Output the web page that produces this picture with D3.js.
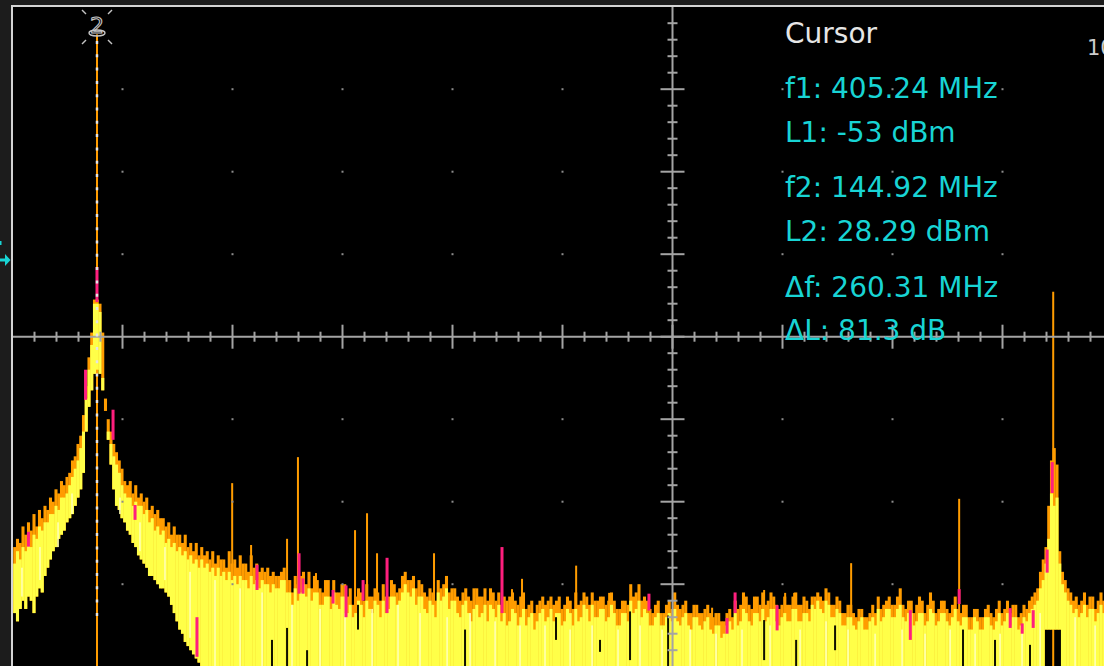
<!DOCTYPE html>
<html>
<head>
<meta charset="utf-8">
<script src="https://cdn.jsdelivr.net/npm/d3@7"></script>
<style>
  html, body { margin: 0; padding: 0; background: #1c1c1c; overflow: hidden; }
  svg { display: block; }
</style>
</head>
<body>
<svg id="scope" width="1104" height="666"></svg>
<script>
// spectrum bins: 2.5 MHz apart starting at 70 MHz, levels in dBm
var binStart = 70, binStep = 2.5;

var yellowTop = [
  -100, -97, -99, -96, -97, -94, -96, -93, -94, -91,
  -92, -90, -90, -88, -88, -86, -87, -84, -84, -83,
  -81, -79, -77, -75, -72, -68, -60, -53, -47, -37,
  -37, -39, -55, -63, -68, -71, -74, -76, -78, -81,
  -83, -84, -84, -86, -85, -86, -86, -88, -87, -90,
  -89, -92, -91, -93, -92, -95, -94, -96, -95, -97,
  -96, -98, -97, -99, -98, -100, -99, -101, -99, -101,
  -100, -102, -101, -103, -101, -103, -102, -104, -102, -104,
  -103, -105, -103, -104, -104, -106, -103, -105, -104, -106,
  -104, -105, -105, -107, -105, -106, -106, -104, -104, -107,
  -107, -110, -106, -109, -107, -105, -108, -106, -109, -107,
  -107, -110, -110, -108, -108, -111, -107, -110, -111, -108,
  -108, -112, -110, -113, -112, -109, -110, -113, -109, -111,
  -112, -109, -110, -113, -109, -112, -111, -108, -108, -110,
  -109, -107, -105, -107, -108, -106, -110, -108, -108, -111,
  -112, -109, -110, -113, -107, -109, -108, -106, -111, -109,
  -109, -112, -113, -110, -109, -112, -114, -111, -110, -113,
  -112, -110, -114, -110, -111, -113, -110, -114, -112, -115,
  -114, -111, -112, -115, -113, -111, -115, -113, -112, -116,
  -114, -112, -111, -114, -113, -111, -114, -112, -112, -115,
  -114, -111, -112, -115, -111, -114, -113, -110, -111, -114,
  -110, -113, -113, -111, -111, -114, -113, -110, -112, -115,
  -115, -112, -112, -114, -109, -112, -111, -109, -113, -111,
  -112, -115, -115, -113, -112, -115, -115, -113, -112, -114,
  -111, -114, -115, -113, -112, -115, -116, -113, -113, -115,
  -116, -114, -113, -116, -117, -115, -115, -118, -117, -115,
  -114, -116, -112, -115, -114, -111, -112, -114, -115, -112,
  -112, -114, -111, -114, -113, -111, -111, -114, -115, -113,
  -112, -114, -114, -111, -111, -114, -114, -112, -112, -114,
  -110, -111, -109, -111, -112, -109, -110, -113, -113, -111,
  -112, -115, -115, -113, -113, -115, -116, -114, -113, -116,
  -116, -114, -113, -115, -111, -114, -113, -111, -111, -113,
  -113, -111, -110, -113, -114, -112, -112, -115, -114, -112,
  -112, -115, -114, -111, -112, -115, -114, -112, -112, -114,
  -115, -113, -111, -114, -115, -113, -113, -116, -116, -113,
  -114, -116, -116, -113, -113, -115, -116, -114, -112, -115,
  -114, -112, -115, -113, -113, -116, -115, -113, -114, -112,
  -111, -110, -109, -106, -104, -100, -94, -83, -86, -84,
  -100, -105, -107, -109, -110, -112, -111, -113, -112, -110,
  -113, -111, -111, -114, -112, -110, -112
];

var orangeTop = [
  -96, -94, -95, -91, -93, -90, -92, -88, -91, -87,
  -89, -86, -87, -84, -85, -82, -83, -80, -81, -79,
  -78, -75, -74, -71, -69, -64, -57, -50, -44, -36,
  -36, -37, -44, -60, -65, -68, -71, -73, -75, -77,
  -80, -81, -80, -83, -81, -84, -83, -85, -84, -87,
  -86, -88, -87, -89, -89, -91, -90, -93, -91, -93,
  -93, -95, -93, -96, -95, -97, -95, -98, -96, -98,
  -97, -99, -97, -100, -98, -99, -99, -101, -97, -100,
  -99, -101, -98, -100, -100, -102, -98, -101, -100, -102,
  -101, -102, -101, -103, -102, -103, -103, -102, -101, -104,
  -104, -107, -103, -105, -103, -102, -105, -102, -106, -103,
  -104, -106, -107, -104, -104, -108, -104, -107, -107, -105,
  -105, -108, -106, -110, -108, -106, -107, -109, -105, -108,
  -108, -106, -107, -109, -105, -108, -108, -104, -105, -107,
  -106, -103, -102, -104, -104, -103, -106, -104, -105, -107,
  -108, -106, -107, -109, -104, -106, -105, -103, -107, -106,
  -106, -108, -109, -107, -106, -108, -109, -106, -106, -108,
  -108, -106, -109, -106, -107, -109, -107, -110, -108, -109,
  -108, -107, -109, -110, -108, -107, -111, -110, -109, -112,
  -110, -109, -108, -110, -109, -108, -110, -109, -108, -111,
  -110, -108, -109, -111, -107, -110, -109, -107, -108, -110,
  -107, -109, -109, -108, -108, -110, -109, -107, -109, -111,
  -111, -109, -109, -110, -105, -108, -107, -105, -109, -108,
  -109, -111, -112, -110, -109, -112, -112, -110, -109, -111,
  -107, -110, -111, -110, -109, -112, -112, -110, -110, -112,
  -112, -111, -110, -112, -113, -112, -112, -114, -114, -112,
  -111, -113, -109, -111, -110, -107, -108, -110, -111, -108,
  -108, -110, -107, -110, -109, -107, -108, -110, -111, -110,
  -108, -110, -110, -108, -107, -110, -110, -108, -109, -111,
  -108, -108, -107, -108, -109, -106, -107, -110, -110, -108,
  -109, -112, -112, -110, -110, -112, -113, -111, -111, -113,
  -113, -112, -110, -112, -108, -111, -110, -109, -108, -110,
  -110, -108, -106, -110, -111, -109, -109, -112, -110, -108,
  -109, -112, -110, -107, -109, -112, -111, -109, -109, -111,
  -112, -110, -108, -111, -112, -110, -110, -113, -113, -111,
  -111, -113, -113, -111, -110, -112, -113, -111, -109, -112,
  -111, -109, -112, -110, -110, -113, -112, -110, -111, -109,
  -108, -107, -106, -102, -99, -96, -86, -75, -72, -76,
  -97, -102, -104, -106, -107, -109, -108, -110, -109, -107,
  -110, -108, -108, -111, -109, -107, -109
];

// lower edge of the band around the big carrier (bins 0..67), the rest reaches the screen bottom
var skirtFloor = [
  -112, -114, -111, -109, -111, -108, -109, -112, -108, -106,
  -107, -103, -101, -99, -97, -96, -94, -93, -92, -90,
  -89, -88, -86, -84, -82, -78, -68, -62, -58, -54,
  -53, -54, -58, -63, -70, -76, -82, -86, -87, -89,
  -90, -92, -93, -95, -96, -98, -99, -100, -101, -103,
  -103, -104, -105, -106, -106, -107, -108, -110, -112, -114,
  -116, -117, -119, -120, -121, -122, -123, -124
];
var floorFreqs = [1007.5, 1010, 1012.5, 1015, 1017.5, 1020];
var floorLevels = [-116, -116, -116, -116, -116, -116];

// narrow max-hold spikes
var spikeFreqs = [144.92, 267.8, 285, 317.7, 327.6, 344, 379.5, 390.4, 399.5, 451.3, 522.2,
  531.3, 580.5, 610.5, 704.1, 751.4, 770.5, 778.7, 830.5, 928.7, 1014.2];
var spikeLevels = [28.29, -80.5, -95.5, -94, -74.2, -102.3, -91.9, -87.8, -97.5, -97.5, -106.2,
  -103.7, -100.5, -107.1, -110.7, -106.4, -107.1, -107.1, -99.9, -84.3, -34.1];

// magenta persistence hits: freq, top, bottom
var pinkFreqs = [144.9, 134.5, 82.6, 159.5, 179.5, 235.8, 290.4, 328.6, 332.2, 359.5, 371.3, 386.8,
  408.6, 513.1, 646.7, 717.7, 725, 763.2, 884.3, 928.7, 975.1, 986, 996, 1008.7, 1013.3];
var pinkTops = [-28.1, -53, -92.3, -62.7, -85.8, -113, -100.3, -97.5, -103.6, -106.4, -105.3, -104,
  -98.6, -96, -107.3, -113.2, -107, -110.1, -111.3, -106.2, -110.8, -114.5, -111.3, -96.6, -75.4];
var pinkBottoms = [-36.6, -60.3, -95.9, -70, -89.4, -122.6, -106.4, -107.3, -107.3, -109.7, -113, -109,
  -112, -112, -111.4, -117, -112, -116.2, -118.5, -109.8, -115.6, -117, -115.6, -102.2, -82.9];

// pale (most frequent) streaks inside the band
var paleFreqs = [76.7, 93.1, 109.5, 122.2, 165.8, 184, 206.7, 229.5, 252.2, 275, 295, 322.2, 347.7,
  370.4, 395, 418.6, 438.6, 463.2, 484.1, 506.8, 529.5, 552.2, 575, 595, 618.6, 638.6, 658.6,
  684.1, 707.7, 731.3, 756.8, 784.1, 807.7, 827.7, 852.3, 876.8, 897.7, 920.5, 943.2, 965.9,
  985.9, 1002.3, 1034.1, 1052.3];
var paleTops = [-101, -96, -90, -83, -84, -90, -96, -102, -104, -106, -107, -110, -111,
  -112, -111, -110, -112, -113, -112, -114, -115, -115, -116, -115, -116, -115, -116,
  -116, -117, -116, -115, -116, -114, -116, -117, -116, -117, -116, -117, -117,
  -116, -112, -113, -115];
var paleBottoms = [-108, -104, -96, -88, -88, -97, -104, -118, -125, -125, -125, -125, -125,
  -125, -125, -125, -125, -125, -125, -125, -125, -125, -125, -125, -125, -125, -125,
  -125, -125, -125, -125, -125, -125, -125, -125, -125, -125, -125, -125, -125,
  -125, -125, -125, -125];

// dark holes inside the band
var gapFreqs = [304, 317.7, 335.9, 382.2, 479.5, 562.2, 602.2, 629.5, 664.1, 751.4, 780.5, 815.9, 932.2, 961.3, 993.1];
var gapTops = [-118.5, -115.6, -121, -110, -116, -113, -118.5, -111.6, -112.6, -113.7, -118.5, -115, -116, -118.5, -119.7];
var gapBottoms = [-125, -125, -125, -116, -125, -118.5, -121.4, -123.4, -125, -123.4, -125, -121, -125, -125, -125];

var cursorFreq = 144.92, cursorEnd = -113.5;
var cursorNames = ["f1", "L1", "f2", "L2", "\u0394f", "\u0394L"];
var cursorValues = ["405.24 MHz", "-53 dBm", "144.92 MHz", "28.29 dBm", "260.31 MHz", "81.3 dB"];

var svg = d3.select('#scope');
var W = 1104, H = 666;

var x = d3.scaleLinear().domain([68.1, 1068.1]).range([12.5, 1112.5]);
var y = d3.scaleLinear().domain([-125, 35]).range([666.7, 6.7]);

// screen
svg.append('rect').attr('width', W).attr('height', H).attr('fill', '#1c1c1c');
svg.append('rect').attr('x', 12).attr('y', 6).attr('width', W).attr('height', H).attr('fill', '#000');

svg.append('clipPath').attr('id', 'plot')
  .append('rect').attr('x', 13).attr('y', 7).attr('width', W).attr('height', H);

var bins = yellowTop.map(function(v, i){
  var f = binStart + binStep * i;
  var bot = -125;
  if (i < skirtFloor.length) bot = skirtFloor[i];
  var k = floorFreqs.indexOf(f);
  if (k >= 0) bot = floorLevels[k];
  return {f: f, yel: v, org: orangeTop[i], bot: bot};
});
var bw = x(binStart + binStep) - x(binStart);

var trace = svg.append('g').attr('clip-path', 'url(#plot)');

// draws thin vertical segments from three parallel arrays
function streaks(cls, freqs, tops, bottoms, w, color){
  trace.selectAll('rect.' + cls).data(freqs).enter().append('rect')
    .attr('class', cls)
    .attr('x', function(d){ return x(d) - w / 2; })
    .attr('y', function(d, i){ return y(tops[i]); })
    .attr('width', w)
    .attr('height', function(d, i){ return y(bottoms[i]) - y(tops[i]); })
    .attr('fill', color);
}

trace.selectAll('rect.org').data(bins).enter().append('rect')
  .attr('class', 'org')
  .attr('x', function(d){ return x(d.f) - bw / 2; })
  .attr('y', function(d){ return y(d.org); })
  .attr('width', bw + 0.3)
  .attr('height', function(d){ return Math.max(0, y(d.bot) - y(d.org)); })
  .attr('fill', '#ff9c00');

streaks('spike', spikeFreqs, spikeLevels, spikeFreqs.map(function(){ return -125; }), 2, '#ff9c00');

trace.selectAll('rect.yel').data(bins).enter().append('rect')
  .attr('class', 'yel')
  .attr('x', function(d){ return x(d.f) - bw / 2; })
  .attr('y', function(d){ return y(d.yel); })
  .attr('width', bw + 0.3)
  .attr('height', function(d){ return Math.max(0, y(d.bot) - y(d.yel)); })
  .attr('fill', '#ffff48');

streaks('pale', paleFreqs, paleTops, paleBottoms, 1.6, '#ffffb4');
streaks('gap', gapFreqs, gapTops, gapBottoms, 2, '#111100');
streaks('pink', pinkFreqs, pinkTops, pinkBottoms, 3, '#ff1f7e');

// graticule
var grid = svg.append('g');
var xc = x(668.1), yc = y(-45);
var dots = [];
d3.range(1, 10).forEach(function(k){
  d3.range(1, 8).forEach(function(j){
    if (k !== 6 && j !== 4) dots.push([68.1 + 100 * k, -125 + 20 * j]);
  });
});
grid.selectAll('rect.dot').data(dots).enter().append('rect')
  .attr('x', function(d){ return x(d[0]) - 1; })
  .attr('y', function(d){ return y(d[1]) - 1; })
  .attr('width', 2).attr('height', 2)
  .attr('fill', '#8c8c8c');

grid.append('line').attr('x1', 13).attr('x2', W).attr('y1', yc).attr('y2', yc)
  .attr('stroke', '#a4a4a4').attr('stroke-width', 2);
grid.append('line').attr('x1', xc).attr('x2', xc).attr('y1', 7).attr('y2', H)
  .attr('stroke', '#a4a4a4').attr('stroke-width', 2);

grid.selectAll('line.xt').data(d3.range(1, 51)).enter().append('line')
  .attr('x1', function(k){ return x(68.1 + 20 * k); })
  .attr('x2', function(k){ return x(68.1 + 20 * k); })
  .attr('y1', function(k){ return yc - (k % 5 === 0 ? 12 : 5); })
  .attr('y2', function(k){ return yc + (k % 5 === 0 ? 12 : 5); })
  .attr('stroke', '#a4a4a4').attr('stroke-width', 2);
grid.selectAll('line.yt').data(d3.range(1, 40)).enter().append('line')
  .attr('y1', function(k){ return y(-125 + 4 * k); })
  .attr('y2', function(k){ return y(-125 + 4 * k); })
  .attr('x1', function(k){ return xc - (k % 5 === 0 ? 12 : 5); })
  .attr('x2', function(k){ return xc + (k % 5 === 0 ? 12 : 5); })
  .attr('stroke', '#a4a4a4').attr('stroke-width', 2);

// frame
svg.append('line').attr('x1', 11).attr('x2', W).attr('y1', 6).attr('y2', 6)
  .attr('stroke', '#d4d4d4').attr('stroke-width', 2);
svg.append('line').attr('x1', 12).attr('x2', 12).attr('y1', 5).attr('y2', H)
  .attr('stroke', '#d4d4d4').attr('stroke-width', 2);

// cursor 2
var cx = x(cursorFreq);
svg.append('line').attr('x1', cx).attr('x2', cx)
  .attr('y1', 41).attr('y2', y(cursorEnd))
  .attr('stroke', '#e4e4e4').attr('stroke-width', 2.5)
  .attr('stroke-dasharray', '3,10.3');
var mk = svg.append('g').attr('transform', 'translate(' + cx + ',0)')
  .attr('stroke', '#c4c4c4').attr('stroke-width', 1.4).attr('fill', 'none');
mk.append('ellipse').attr('cx', 0).attr('cy', 33).attr('rx', 8).attr('ry', 3);
mk.append('text').attr('x', 0).attr('y', 33).attr('text-anchor', 'middle')
  .style('font', '22px "DejaVu Sans"').attr('stroke-width', 1.1).text('2');
[[-15, 10, -11, 14], [15, 10, 11, 14], [-15, 44, -11, 40], [15, 44, 11, 40]].forEach(function(s){
  mk.append('line').attr('x1', s[0]).attr('y1', s[1]).attr('x2', s[2]).attr('y2', s[3]);
});

// reference level arrow
svg.append('path')
  .attr('d', 'M0,258.5 L5,258.5 L5,254 L10.5,260 L5,266 L5,261.5 L0,261.5 Z')
  .attr('fill', '#19d4d4');
svg.append('rect').attr('x', 0).attr('y', 241).attr('width', 1.5).attr('height', 4).attr('fill', '#19d4d4');

// readout
var txt = svg.append('g').style('font-family', '"DejaVu Sans", sans-serif').style('font-size', '28px');
txt.append('text').attr('x', 785).attr('y', 43).attr('fill', '#e6e6e6').text('Cursor');
var baselines = [98, 142, 197, 241, 297, 340];
cursorNames.forEach(function(n, i){
  txt.append('text').attr('x', 785).attr('y', baselines[i]).attr('fill', '#18d4d4')
    .text(n + ': ' + cursorValues[i]);
});
svg.append('text').attr('x', 1087).attr('y', 55).attr('fill', '#cccccc')
  .style('font', '21px "DejaVu Sans"').text('10');
</script>
</body>
</html>
